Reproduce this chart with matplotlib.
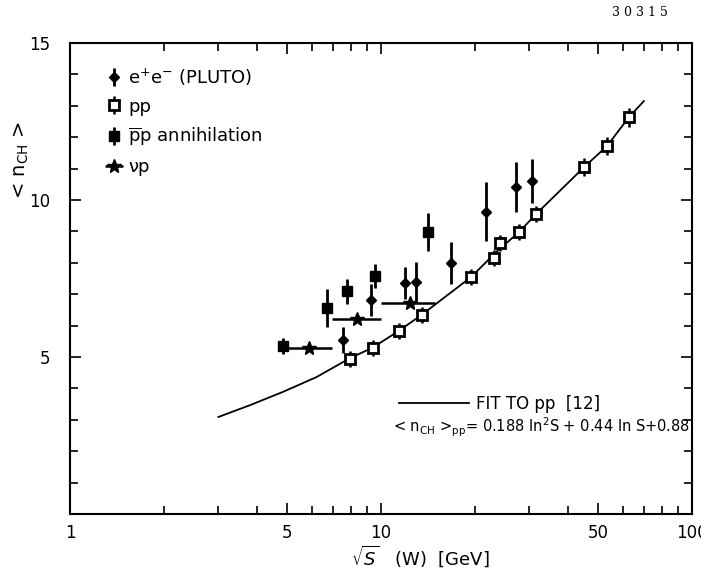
import numpy as np
import matplotlib
matplotlib.use('Agg')
import matplotlib.pyplot as plt
from matplotlib.ticker import FixedLocator, NullFormatter, FixedFormatter

# e+e- (PLUTO)
ee_x = [7.55, 9.3, 11.9, 12.97, 16.8, 21.8, 27.2, 30.6]
ee_y = [5.54, 6.82, 7.36, 7.39, 7.99, 9.62, 10.41, 10.6]
ee_err = [0.42, 0.52, 0.52, 0.64, 0.67, 0.94, 0.8, 0.7]

# pp
pp_x = [7.95, 9.42, 11.4, 13.5, 19.5, 23.1, 24.1, 27.8, 31.5, 45.0, 53.3, 62.7]
pp_y = [4.94, 5.29, 5.83, 6.34, 7.55, 8.15, 8.63, 8.98, 9.55, 11.05, 11.72, 12.64]
pp_err = [0.25, 0.25, 0.25, 0.25, 0.25, 0.25, 0.25, 0.25, 0.25, 0.3, 0.3, 0.3]

# pbar p annihilation
ann_x = [4.84, 6.7, 7.78, 9.57, 14.2]
ann_y = [5.35, 6.56, 7.10, 7.58, 8.98]
ann_err = [0.27, 0.6, 0.4, 0.37, 0.6]

# nu p
nu_x = [5.87, 8.37, 12.4]
nu_y = [5.29, 6.21, 6.72]
nu_lo = [4.84, 6.95, 10.0]
nu_hi = [6.95, 10.0, 14.9]

# fit curve
fit_x = [3.0, 3.8, 4.84, 6.2, 7.9, 9.4, 11.4, 13.5, 19.5, 23.5, 27.8, 31.5, 45.0, 53.3, 62.7, 70.0]
fit_y = [3.09, 3.47, 3.89, 4.36, 4.95, 5.3, 5.83, 6.34, 7.55, 8.35, 8.98, 9.55, 11.05, 11.72, 12.64, 13.15]

fig = plt.figure(figsize=(7.01, 5.72), dpi=100)
ax = fig.add_axes([0.0999, 0.1014, 0.8873, 0.8234])

fitline, = ax.plot(fit_x, fit_y, color='black', lw=1.3)

h_ee = ax.errorbar(ee_x, ee_y, yerr=ee_err, fmt='D', color='black', ms=5,
                   elinewidth=2, capsize=0)
h_pp = ax.errorbar(pp_x, pp_y, yerr=pp_err, fmt='s', color='black', mfc='white',
                   mew=2, ms=6.5, elinewidth=1.8, capsize=0)
h_ann = ax.errorbar(ann_x, ann_y, yerr=ann_err, fmt='s', color='black', ms=7.5,
                    elinewidth=2, capsize=0)
nx = np.array(nu_x)
h_nu = ax.errorbar(nu_x, nu_y, xerr=[nx - np.array(nu_lo), np.array(nu_hi) - nx],
                   fmt='*', color='black', ms=10, elinewidth=1.8, capsize=0)

ax.set_xscale('log')
ax.set_xlim(1, 100)
ax.set_ylim(0, 15)

xmaj = [1, 5, 10, 50, 100]
ax.xaxis.set_major_locator(FixedLocator(xmaj))
ax.xaxis.set_major_formatter(FixedFormatter([str(v) for v in xmaj]))
xmin = [2, 3, 4, 6, 7, 8, 9, 20, 30, 40, 60, 70, 80, 90]
ax.xaxis.set_minor_locator(FixedLocator(xmin))
ax.xaxis.set_minor_formatter(NullFormatter())
ax.yaxis.set_major_locator(FixedLocator([5, 10, 15]))
ax.yaxis.set_minor_locator(FixedLocator(range(1, 15)))

ax.tick_params(which='both', direction='in', top=True, right=True, width=1.2)
ax.tick_params(which='major', length=8, labelsize=12)
ax.tick_params(which='minor', length=6)
ax.tick_params(axis='y', which='major', pad=14)
ax.tick_params(axis='x', which='major', pad=7)
for s in ax.spines.values():
    s.set_linewidth(1.5)

fig.text(0.6, 0.027, r'$\sqrt{S}$   (W)  [GeV]', fontsize=13,
         ha='center', va='center')
fig.text(0.03, 0.72, r'< n$_{\rm CH}$ >', rotation=90, fontsize=14,
         ha='center', va='center')

leg = ax.legend([h_ee, h_pp, h_ann, h_nu],
                [r'e$^{+}$e$^{-}$ (PLUTO)', 'pp', r'$\overline{\rm p}$p annihilation', 'νp'],
                loc='upper left', bbox_to_anchor=(0.03, 0.985), frameon=False,
                fontsize=13, handlelength=1.0, handletextpad=0.3, labelspacing=0.55)
ax.add_artist(leg)

ax.legend([fitline], ['FIT TO pp  [12]'], loc='upper left',
          bbox_to_anchor=(0.505, 0.285), frameon=False, fontsize=12,
          handlelength=4.2, handletextpad=0.4)
ax.text(0.997, 0.183,
        r'< n$_{\rm CH}$ >$_{\rm pp}$= 0.188 ln$^{2}$S + 0.44 ln S+0.88',
        transform=ax.transAxes, ha='right', va='center', fontsize=10.5)

fig.text(0.913, 0.972, '3 0 3 1 5', fontsize=9, family='serif', ha='center')

fig.savefig('out.png', dpi=100)
